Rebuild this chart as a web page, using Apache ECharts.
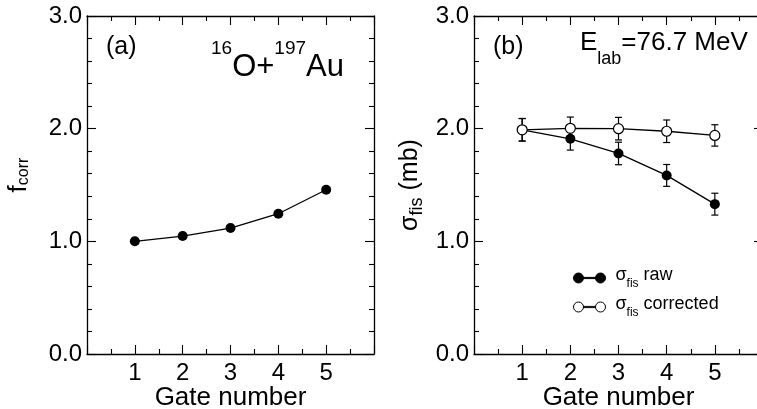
<!DOCTYPE html>
<html>
<head>
<meta charset="utf-8">
<script src="https://cdn.jsdelivr.net/npm/echarts@6/dist/echarts.min.js"></script>
<style>
  html, body { margin: 0; padding: 0; background: #fff; }
  #chart { width: 757px; height: 409px; }
</style>
</head>
<body>
<div id="chart"></div>
<script>
// values
const gates = [1, 2, 3, 4, 5];
const fCorr = [1.0, 1.047, 1.118, 1.245, 1.458];
const sigmaRaw = [1.99, 1.91, 1.78, 1.585, 1.33];
const sigmaRawErr = [0.1, 0.1, 0.1, 0.097, 0.097];
const sigmaCorr = [1.99, 2.003, 2.0, 1.977, 1.94];
const sigmaCorrErr = [0.1, 0.1, 0.1, 0.1, 0.095];
const xTicks = ['1', '2', '3', '4', '5'];
const yTicks = ['0.0', '1.0', '2.0', '3.0'];

const FONT = '"Liberation Sans", Arial, Helvetica, sans-serif';
const chart = echarts.init(document.getElementById('chart'));

function xAxis (grid, pos) {
  const bottom = pos === 'bottom';
  return {
    type: 'value', gridIndex: grid, position: pos,
    min: 0, max: 6, interval: 1,
    name: bottom ? 'Gate number' : '',
    nameLocation: 'middle', nameGap: 31, nameMoveOverlap: false,
    nameTextStyle: { fontFamily: FONT, fontSize: 26, color: '#000' },
    axisLine: { show: true, onZero: false, lineStyle: { color: '#000', width: 1.3 } },
    axisTick: { show: true, inside: true, length: 9, lineStyle: { color: '#000', width: 1.1 } },
    minorTick: { show: true, splitNumber: 2, length: 5, lineStyle: { color: '#000', width: 1.1 } },
    splitLine: { show: false },
    axisLabel: {
      show: bottom, margin: 7, color: '#000', fontFamily: FONT, fontSize: 24,
      formatter: v => xTicks[v - 1] || ''
    }
  };
}

function yAxis (grid, pos, name, nameGap, rich, pad) {
  const left = pos === 'left';
  return {
    type: 'value', gridIndex: grid, position: pos,
    min: 0, max: 3, interval: 1,
    name: left ? name : '',
    nameLocation: 'middle', nameGap: nameGap, nameMoveOverlap: false,
    nameTextStyle: { fontFamily: FONT, fontSize: 25, color: '#000', rich: rich, padding: pad || 0 },
    axisLine: { show: true, onZero: false, lineStyle: { color: '#000', width: 1.3 } },
    axisTick: { show: true, inside: true, length: 9, lineStyle: { color: '#000', width: 1.1 } },
    minorTick: { show: true, splitNumber: 5, length: 5, lineStyle: { color: '#000', width: 1.1 } },
    splitLine: { show: false },
    axisLabel: {
      show: left, margin: 5, color: '#000', fontFamily: FONT, fontSize: 24,
      formatter: v => yTicks[v] || ''
    }
  };
}

function errorBars (values, errs, xi) {
  return {
    type: 'custom', xAxisIndex: xi, yAxisIndex: xi, z: 1,
    data: gates.map((g, i) => [g, values[i] - errs[i], values[i] + errs[i]]),
    encode: { x: 0, y: [1, 2] },
    renderItem (params, api) {
      const lo = api.coord([api.value(0), api.value(1)]);
      const hi = api.coord([api.value(0), api.value(2)]);
      const w = 3.5;
      const st = { stroke: '#000', lineWidth: 1.2 };
      return {
        type: 'group',
        children: [
          { type: 'line', shape: { x1: lo[0], y1: lo[1], x2: hi[0], y2: hi[1] }, style: st },
          { type: 'line', shape: { x1: lo[0] - w, y1: lo[1], x2: lo[0] + w, y2: lo[1] }, style: st },
          { type: 'line', shape: { x1: hi[0] - w, y1: hi[1], x2: hi[0] + w, y2: hi[1] }, style: st }
        ]
      };
    }
  };
}

const fRich = {
  m: { fontFamily: FONT, fontSize: 26, color: '#000', lineHeight: 26, verticalAlign: 'top' },
  s: { fontFamily: FONT, fontSize: 16, color: '#000', lineHeight: 16, verticalAlign: 'bottom' }
};
const sigRich = {
  m: { fontFamily: FONT, fontSize: 25, color: '#000', lineHeight: 28, verticalAlign: 'top' },
  s: { fontFamily: FONT, fontSize: 18, color: '#000', lineHeight: 16, verticalAlign: 'bottom' }
};

// legend icon: circle - line - circle
const legendIcon = 'path://M0,5A5,5,0,1,0,10,5A5,5,0,1,0,0,5Z M10,4.4L22,4.4L22,5.6L10,5.6Z M22,5A5,5,0,1,0,32,5A5,5,0,1,0,22,5Z';

chart.setOption({
  animation: false,
  backgroundColor: '#fff',
  grid: [
    { left: 87, top: 16, width: 287, height: 338, outerBoundsMode: 'none' },
    { left: 474, top: 16, width: 289, height: 338, outerBoundsMode: 'none' }
  ],
  xAxis: [xAxis(0, 'bottom'), xAxis(0, 'top'), xAxis(1, 'bottom'), xAxis(1, 'top')],
  yAxis: [
    yAxis(0, 'left', '{m|f}{s|corr}', 55, fRich, [0, 0, 0, 20]),
    yAxis(0, 'right'),
    yAxis(1, 'left', '{m|σ}{s|fis}{m| (mb)}', 48, sigRich),
    yAxis(1, 'right')
  ],
  legend: {
    orient: 'vertical', left: 568, top: 261, itemGap: 5,
    itemWidth: 32, itemHeight: 10,
    textStyle: {
      fontFamily: FONT, fontSize: 18, color: '#000', padding: [0, 0, 0, 5],
      rich: {
        m: { fontFamily: FONT, fontSize: 18, color: '#000', lineHeight: 24, verticalAlign: 'top' },
        s: { fontFamily: FONT, fontSize: 12, color: '#000', lineHeight: 12, verticalAlign: 'bottom' }
      }
    },
    formatter: n => n === 'raw' ? '{m|σ}{s|fis}{m| raw}' : '{m|σ}{s|fis}{m| corrected}',
    data: [
      { name: 'raw', icon: legendIcon, itemStyle: { color: '#000', borderColor: '#000', borderWidth: 1 } },
      { name: 'corrected', icon: legendIcon, itemStyle: { color: '#fff', borderColor: '#000', borderWidth: 1 } }
    ]
  },
  graphic: [
    { type: 'text', left: 106, top: 35, style: { text: '(a)', fontFamily: FONT, fontSize: 25, fill: '#000' } },
    { type: 'text', left: 493, top: 35, style: { text: '(b)', fontFamily: FONT, fontSize: 25, fill: '#000' } },
    {
      type: 'text', left: 211, top: 39,
      style: {
        text: '{p|16}{b|O+}{p|197}{b|Au}',
        rich: {
          p: { fontFamily: FONT, fontSize: 19, fill: '#000', lineHeight: 18, verticalAlign: 'top' },
          b: { fontFamily: FONT, fontSize: 31, fill: '#000', lineHeight: 44, verticalAlign: 'bottom' }
        }
      }
    },
    {
      type: 'text', left: 580, top: 30,
      style: {
        text: '{b|E}{p|lab}{b|=76.7 MeV}',
        rich: {
          b: { fontFamily: FONT, fontSize: 26, fill: '#000', lineHeight: 38, verticalAlign: 'top' },
          p: { fontFamily: FONT, fontSize: 18, fill: '#000', lineHeight: 14, verticalAlign: 'bottom' }
        }
      }
    }
  ],
  series: [
    {
      name: 'fcorr', type: 'line', xAxisIndex: 0, yAxisIndex: 0, z: 3,
      data: gates.map((g, i) => [g, fCorr[i]]),
      symbol: 'circle', symbolSize: 10,
      itemStyle: { color: '#000' },
      lineStyle: { color: '#000', width: 1.3 }
    },
    errorBars(sigmaRaw, sigmaRawErr, 2),
    errorBars(sigmaCorr, sigmaCorrErr, 2),
    {
      name: 'raw', type: 'line', xAxisIndex: 2, yAxisIndex: 2, z: 3,
      data: gates.map((g, i) => [g, sigmaRaw[i]]),
      symbol: 'circle', symbolSize: 10,
      itemStyle: { color: '#000' },
      lineStyle: { color: '#000', width: 1.3 }
    },
    {
      name: 'corrected', type: 'line', xAxisIndex: 2, yAxisIndex: 2, z: 4,
      data: gates.map((g, i) => [g, sigmaCorr[i]]),
      symbol: 'circle', symbolSize: 10,
      itemStyle: { color: '#fff', borderColor: '#000', borderWidth: 1.2 },
      lineStyle: { color: '#000', width: 1.3 }
    }
  ]
});
</script>
</body>
</html>
